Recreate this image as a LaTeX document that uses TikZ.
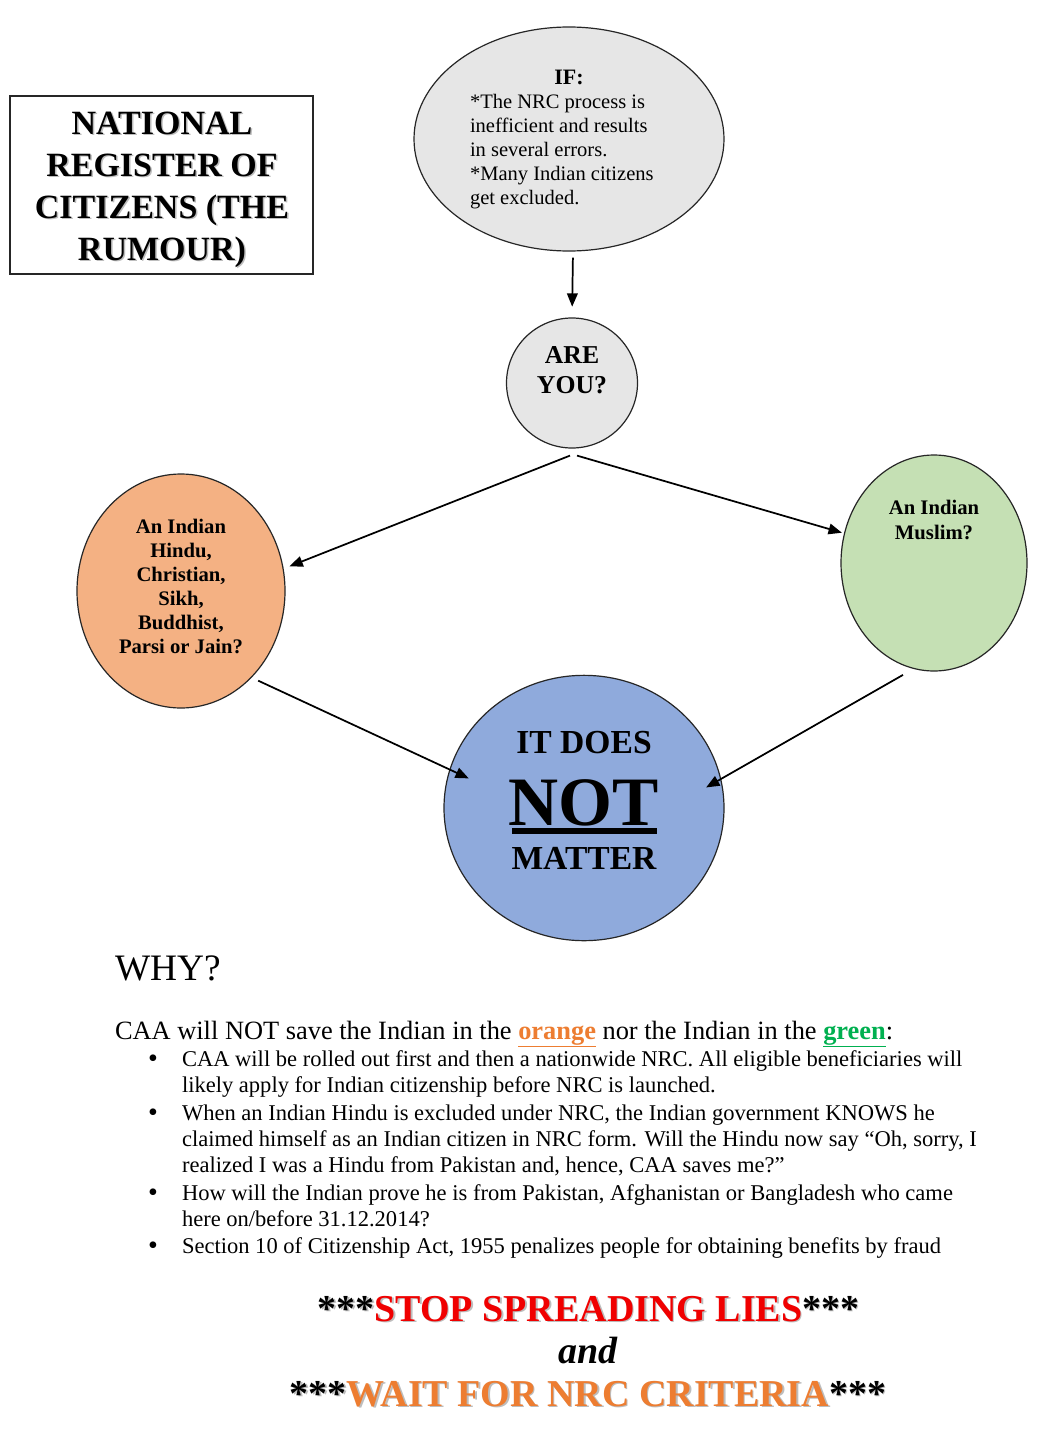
\documentclass[tikz,border=0pt]{standalone}
\usepackage{fontspec}
\setmainfont{Liberation Serif}
\usetikzlibrary{shapes.geometric,arrows.meta}
\definecolor{bubgray}{HTML}{E6E6E6}
\definecolor{bubor}{HTML}{F4B183}
\definecolor{bubgr}{HTML}{C5E0B4}
\definecolor{bubbl}{HTML}{8FAADC}
\definecolor{txor}{HTML}{ED7D31}
\definecolor{txgr}{HTML}{00B050}
\definecolor{txred}{HTML}{F00000}
\definecolor{shadowgray}{HTML}{BDBDBD}
\begin{document}
\begin{tikzpicture}[x=0.75pt,y=-0.75pt,
  bub/.style={ellipse, draw=black!85, line width=0.9pt, inner sep=0pt},
  arr/.style={-{Triangle[length=10pt,width=8pt]}, line width=1.3pt},
  txt/.style={inner sep=0pt, outer sep=0pt},
  shad/.style={txt, text=shadowgray},
  titlefont/.style={font=\bfseries\fontsize{25.5}{31.5}\selectfont, align=center},
  bubfont/.style={font=\fontsize{15.4}{18}\selectfont},
  bodyfont/.style={font=\fontsize{16.9}{19.5}\selectfont, align=left},
  bulfont/.style={font=\fontsize{21}{19.5}\selectfont},
  bigfont/.style={font=\bfseries\fontsize{28.5}{33}\selectfont}
]
\useasboundingbox[fill=white] (0,0) rectangle (1058,1442);

% title box
\node[draw=black!85, line width=1.1pt, minimum width=227.25pt, minimum height=133.5pt, inner sep=0pt] (tbox) at (161.5,185) {};
\node[shad, titlefont, anchor=base] (tshadow) at (163.5,261.5) {NATIONAL\\REGISTER OF\\CITIZENS (THE\\RUMOUR)};
\node[txt, titlefont, anchor=base] (ttext) at (162,260) {NATIONAL\\REGISTER OF\\CITIZENS (THE\\RUMOUR)};

% IF bubble
\node[bub, fill=bubgray, minimum width=232.5pt, minimum height=168pt] (ifb) at (569,139) {};
\node[txt, font=\bfseries\fontsize{16.5}{18}\selectfont, anchor=base] (iftitle) at (569,84) {IF:};
\node[txt, bubfont, align=left, anchor=base west] (iftext) at (470,204) {*The NRC process is\\inefficient and results\\in several errors.\\*Many Indian citizens\\get excluded.};

% ARE YOU
\node[bub, fill=bubgray, minimum width=98.25pt, minimum height=97.5pt] (are) at (572,383) {};
\node[txt, font=\bfseries\fontsize{19.3}{22.5}\selectfont, align=center, anchor=base] (aretext) at (572,393.5) {ARE\\YOU?};

% orange
\node[bub, fill=bubor, minimum width=156pt, minimum height=175.5pt] (hin) at (181,591) {};
\node[txt, font=\bfseries\fontsize{15.5}{18}\selectfont, align=center, anchor=base] (hintext) at (181,653) {An Indian\\Hindu,\\Christian,\\Sikh,\\Buddhist,\\Parsi or Jain?};

% green
\node[bub, fill=bubgr, minimum width=139.5pt, minimum height=162pt] (mus) at (934,563) {};
\node[txt, font=\bfseries\fontsize{15.5}{18.75}\selectfont, align=center, anchor=base] (mustext) at (934,539) {An Indian\\Muslim?};

% blue
\node[bub, fill=bubbl, minimum width=210pt, minimum height=199pt] (blu) at (584,808) {};
\node[txt, font=\bfseries\fontsize{25.2}{30}\selectfont, anchor=base] (itdoes) at (584,753) {IT DOES};
\node[txt, font=\bfseries\fontsize{52}{52}\selectfont, anchor=base] (notw) at (584,825) {NOT};
\draw[line width=4.5pt] (512,831) -- (657,831);
\node[txt, font=\bfseries\fontsize{25.2}{30}\selectfont, anchor=base] (matter) at (584,869) {MATTER};

% connectors
\draw[arr, shorten <=4.5pt, shorten >=8pt] ([xshift=3]ifb.south) -- (are.north);
\draw[arr] ([shift={(-2,7)}]are.south) -- ([shift={(6,-1)}]hin.13);
\draw[arr] ([shift={(5,7)}]are.south) -- ([shift={(-2,-1)}]mus.162);
\draw[arr, shorten <=2pt, shorten >=-16pt] ([shift={(3,3)}]hin.-50) -- (blu.164);
\draw[arr, shorten <=9pt, shorten >=-13pt] (mus.259) -- (blu.12);

% WHY
\node[txt, font=\fontsize{28}{30}\selectfont, anchor=base west] (why) at (115,980) {WHY?};
\node[txt, font=\fontsize{19.8}{22}\selectfont, anchor=base west] (caa) at (115,1039) {CAA will NOT save the Indian in the \textcolor{txor}{\underline{\textbf{orange}}} nor the Indian in the \textcolor{txgr}{\underline{\textbf{green}}}:};

\node[txt, bulfont, anchor=base] (b1) at (153,1067) {\textbullet};
\node[txt, bodyfont, anchor=base west] (i1) at (182,1092) {CAA will be rolled out first and then a nationwide NRC. All eligible beneficiaries will\\likely apply for Indian citizenship before NRC is launched.};
\node[txt, bulfont, anchor=base] (b2) at (153,1121) {\textbullet};
\node[txt, bodyfont, anchor=base west] (i2) at (182,1172) {When an Indian Hindu is excluded under NRC, the Indian government KNOWS he\\claimed himself as an Indian citizen in NRC form. Will the Hindu now say “Oh, sorry, I\\realized I was a Hindu from Pakistan and, hence, CAA saves me?”};
\node[txt, bulfont, anchor=base] (b3) at (153,1201) {\textbullet};
\node[txt, bodyfont, anchor=base west] (i3) at (182,1226) {How will the Indian prove he is from Pakistan, Afghanistan or Bangladesh who came\\here on/before 31.12.2014?};
\node[txt, bulfont, anchor=base] (b4) at (153,1254) {\textbullet};
\node[txt, bodyfont, anchor=base west] (i4) at (182,1253) {Section 10 of Citizenship Act, 1955 penalizes people for obtaining benefits by fraud};

% bottom slogans
\node[shad, bigfont, anchor=base] (stopsh) at (590,1322.5) {***STOP SPREADING LIES***};
\node[txt, bigfont, anchor=base] (stop) at (588.5,1321) {***\textcolor{txred}{STOP SPREADING LIES}***};
\node[txt, font=\bfseries\itshape\fontsize{28.5}{33}\selectfont, anchor=base] (andw) at (588,1363) {and};
\node[shad, bigfont, anchor=base] (waitsh) at (589.5,1407.5) {***WAIT FOR NRC CRITERIA***};
\node[txt, bigfont, anchor=base] (wait) at (588,1406) {***\textcolor{txor}{WAIT FOR NRC CRITERIA}***};
\end{tikzpicture}
\end{document}
